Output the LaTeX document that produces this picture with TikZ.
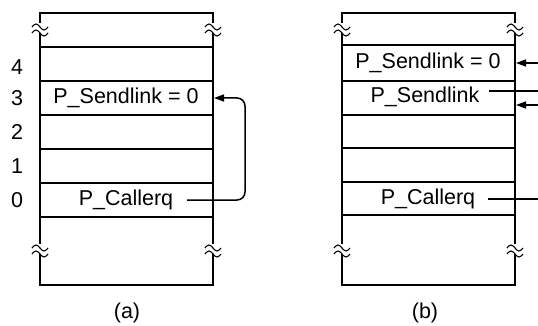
\documentclass[tikz,border=0pt]{standalone}
\usepackage{fontspec}
\setmainfont{Liberation Sans}
\usetikzlibrary{arrows.meta}
\tikzset{
  frameline/.style={line width=1.6pt},
  rowline/.style={line width=1.5pt},
  lbl/.style={font=\fontsize{21.5}{24}\selectfont, inner sep=0pt},
  conn/.style={line width=1.5pt},
  tip/.style={-{Triangle[length=10pt,width=7pt]}},
}
\newcommand\brkmark[2]{%
  \fill[white] (#1-2,#2-5) rectangle (#1+2,#2+5);
  \draw[line width=1.1pt] (#1-8,#2-1) sin (#1-4,#2-4) cos (#1,#2-1) sin (#1+4,#2+2) cos (#1+8,#2-1);
  \draw[line width=1.1pt] (#1-8,#2+5) sin (#1-4,#2+2) cos (#1,#2+5) sin (#1+4,#2+8) cos (#1+8,#2+5);
}
\begin{document}
\begin{tikzpicture}[x=1pt,y=-1pt]
\useasboundingbox (0,0) rectangle (538,326);
% ---------- panel (a) ----------
\draw[frameline] (40,285) -- (40,13) -- (213,13) -- (213,285) -- cycle;
\foreach \yy in {47,81,115,149,183,217} \draw[rowline] (40,\yy) -- (213,\yy);
\brkmark{40}{28}\brkmark{213}{28}
\brkmark{40}{249}\brkmark{213}{249}
\node[lbl] (n4) at (17,67) {4};
\node[lbl] (n3) at (17,98) {3};
\node[lbl] (n2) at (17,132) {2};
\node[lbl] (n1) at (17,166) {1};
\node[lbl] (n0) at (17,200) {0};
\node[lbl] (asend) at (126,98) {P\_Sendlink = 0};
\node[lbl] (acall) at (126,200) {P\_Callerq};
\coordinate (acallout) at (187,200);
\coordinate (asendin) at (214,98);
\draw[conn,tip,rounded corners=8pt] (acallout) -- (245,200) -- (245,98) -- (asendin);
\node[lbl] (capa) at (127,313) {(a)};
% ---------- panel (b) ----------
\draw[frameline] (342,285) -- (342,13) -- (515,13) -- (515,285) -- cycle;
\foreach \yy in {45,81,115,148,182,215} \draw[rowline] (342,\yy) -- (515,\yy);
\brkmark{342}{28}\brkmark{515}{28}
\brkmark{342}{249}\brkmark{515}{249}
\node[lbl] (bsend0) at (428,63) {P\_Sendlink = 0};
\node[lbl] (bsend) at (425,97) {P\_Sendlink};
\node[lbl] (bcall) at (428,199) {P\_Callerq};
\coordinate (bin1) at (516,63);
\coordinate (bin1s) at (538,63);
\coordinate (bout) at (489,91);
\coordinate (boute) at (538,91);
\coordinate (bin2) at (516,105);
\coordinate (bin2s) at (538,105);
\coordinate (bcallout) at (488,199);
\coordinate (bcalle) at (538,199);
\draw[conn,tip] (bin1s) -- (bin1);
\draw[conn] (bout) -- (boute);
\draw[conn,tip] (bin2s) -- (bin2);
\draw[conn] (bcallout) -- (bcalle);
\node[lbl] (capb) at (425,313) {(b)};
\end{tikzpicture}
\end{document}
